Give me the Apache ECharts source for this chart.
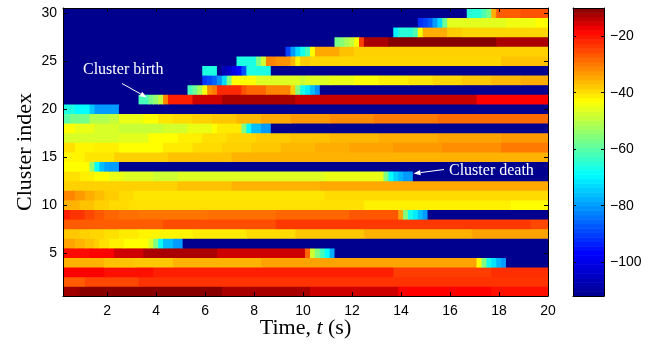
<!DOCTYPE html>
<html><head><meta charset="utf-8">
<script src="https://cdn.jsdelivr.net/npm/echarts@6/dist/echarts.min.js"></script>
<style>html,body{margin:0;padding:0;background:#fff}#c{width:671px;height:349px}</style>
</head><body><div id="c"></div>
<script>
// ---- tick labels ----
const timeTicks = [2, 4, 6, 8, 10, 12, 14, 16, 18, 20];
const clusterTicks = [5, 10, 15, 20, 25, 30];
const colorTicks = [-100, -80, -60, -40, -20];

// ---- each cluster row: [segment start time (s), value]; segment runs to the next start ----
const r1  = [[0.1,-12],[0.9,-10.5],[6.7,-12.5],[10.3,-15],[13.9,-18],[17.7,-19.5]];
const r2  = [[0.1,-27],[1.1,-25],[3.3,-23]];
const r3  = [[0.1,-18],[1.9,-19.5],[3.9,-21],[13.7,-24],[17.7,-22.5]];
const r4  = [[0.1,-35.5],[1.9,-37],[3.1,-37.5],[4.7,-35.5],[8.3,-34],[17.1,-43],[17.3,-56],[17.5,-67],[17.7,-72],[17.9,-77],[18.1,-80],[18.3,-112]];
const r5  = [[0.1,-19],[1.3,-18],[2.3,-15],[3.5,-12.6],[6.5,-15],[10.1,-28],[10.3,-48],[10.5,-56],[10.7,-62],[10.9,-69],[11.1,-78],[11.3,-112]];
const r6  = [[0.1,-34],[0.7,-35.5],[1.1,-37],[1.5,-38.5],[1.7,-40],[2.1,-41.5],[2.7,-43],[3.7,-47],[3.9,-56],[4.1,-68],[4.3,-76],[4.7,-80],[5.1,-112]];
const r7  = [[0.1,-37.5],[0.9,-38.5],[1.3,-39],[1.9,-40],[2.5,-41],[3.3,-42],[5.5,-41],[7.7,-39.5],[9.7,-37.5],[12.5,-35.5],[16.9,-34]];
const r8  = [[0.1,-27],[4.3,-25.5],[8.9,-23.5],[19.3,-25]];
const r9  = [[0.1,-21],[0.5,-23],[1.1,-25],[1.5,-26.5],[1.9,-28],[2.5,-29],[3.3,-29.5],[6.1,-29],[8.9,-28],[11.9,-26.5],[13.9,-34],[14.1,-56],[14.3,-67],[14.5,-71],[14.7,-76],[14.9,-80],[15.1,-112]];
const r10 = [[0.1,-35.5],[0.9,-37],[1.5,-38.5],[2.1,-39.5],[2.9,-40],[12.5,-41.5],[18.5,-43]];
const r11 = [[0.1,-31],[0.7,-33],[1.1,-35],[1.5,-36.5],[1.9,-38],[2.5,-39.5],[3.1,-40.5],[10.9,-39.5]];
const r12 = [[0.1,-38.5],[4.9,-37],[7.1,-35.5],[10.7,-34.5]];
const r13 = [[0.1,-40],[0.9,-41.5],[1.5,-43],[2.1,-45],[2.7,-46.5],[3.9,-48],[4.9,-46.5],[10.9,-45],[13.3,-56],[13.5,-69],[13.7,-74],[13.9,-77],[14.1,-80],[14.5,-112]];
const r14 = [[0.1,-43],[1.3,-54],[1.5,-68],[1.7,-76],[1.9,-79],[2.1,-80],[2.5,-112]];
const r15 = [[0.1,-42],[1.1,-40.5],[2.3,-38.5],[4.5,-37],[7.1,-35.5]];
const r16 = [[0.1,-40],[0.7,-42],[1.5,-41.5],[2.5,-43],[4.3,-41],[5.5,-39.5],[6.7,-38.5],[7.9,-37.5],[9.1,-36],[10.5,-35],[11.9,-34],[13.7,-33],[15.7,-32],[18.1,-30]];
const r17 = [[0.1,-47],[2.5,-46],[3.7,-43],[4.9,-41.5],[5.9,-40],[6.9,-39],[8.1,-38],[9.5,-37],[11.1,-36],[13.1,-35],[15.5,-34],[18.1,-33]];
const r18 = [[0.1,-43],[0.7,-45],[1.5,-47],[2.5,-48.5],[4.3,-47.5],[5.3,-45],[6.3,-43],[6.5,-41],[7.5,-56],[7.7,-69],[7.9,-76],[8.3,-80],[8.7,-112]];
const r19 = [[0.1,-60],[0.5,-57],[1.3,-51],[2.1,-49],[2.5,-45],[3.5,-43],[4.1,-40.5],[4.7,-39.5],[5.5,-38.5],[6.3,-37.5],[7.3,-36],[8.3,-34.5],[9.5,-33],[11.1,-31.5],[12.9,-30],[15.5,-28.5]];
const r20 = [[0.1,-66],[0.7,-69],[1.3,-75],[1.5,-80],[2.5,-112]];
const r21 = [[0.1,-112],[3.3,-62],[3.7,-57],[3.9,-54],[4.1,-49],[4.3,-31],[4.5,-21],[5.5,-15],[6.7,-12.5],[9.7,-14.5],[17.1,-18]];
const r22 = [[0.1,-112],[5.3,-62],[5.5,-58],[5.7,-52],[5.9,-44],[6.1,-32],[6.3,-30],[6.5,-22],[7.5,-26],[7.7,-28],[8.5,-31],[9.5,-38],[9.7,-56],[9.9,-67],[10.1,-71],[10.3,-76],[10.5,-81],[10.7,-112]];
const r23 = [[0.1,-112],[5.9,-91],[6.1,-89],[6.3,-86],[6.5,-81],[6.7,-73],[6.9,-56],[7.1,-43],[8.1,-46.5],[9.9,-48],[10.1,-46.5],[11.1,-45],[12.1,-43],[13.1,-41.5],[14.3,-40.5],[15.3,-39],[16.5,-37.5],[17.7,-36],[18.9,-35]];
const r24 = [[0.1,-112],[5.9,-66],[6.5,-112],[6.7,-107],[6.9,-104],[7.1,-100],[7.3,-96],[7.5,-88],[7.7,-66],[8.7,-112]];
const r25 = [[0.1,-112],[7.3,-66],[8.1,-56],[8.3,-48],[8.5,-31],[8.9,-32.5],[9.5,-36],[9.7,-42],[9.9,-38],[10.3,-39],[18.1,-37]];
const r26 = [[0.1,-112],[9.3,-90],[9.5,-80],[9.7,-73],[9.9,-67],[10.1,-62],[10.3,-43],[10.5,-34.5],[11.5,-37],[12.1,-38.5]];
const r27 = [[0.1,-112],[11.3,-57],[11.5,-55],[11.7,-52],[11.9,-49],[12.1,-43],[12.3,-24],[12.5,-12.6],[13.5,-10.3],[17.9,-12.6]];
const r28 = [[0.1,-112],[13.7,-70],[13.9,-65],[14.5,-61],[14.7,-43],[14.9,-35],[15.9,-38],[16.5,-39]];
const r29 = [[0.1,-112],[14.7,-92],[14.9,-90],[15.1,-87],[15.3,-80],[15.5,-73],[15.7,-58],[15.9,-46],[18.3,-44.5],[19.5,-43]];
const r30 = [[0.1,-112],[16.7,-65],[17.3,-61],[17.5,-57],[17.7,-35],[17.9,-27],[18.9,-26]];

const rows = [r1,r2,r3,r4,r5,r6,r7,r8,r9,r10,r11,r12,r13,r14,r15,r16,r17,r18,r19,r20,r21,r22,r23,r24,r25,r26,r27,r28,r29,r30];
const T_END = 20.1;
const C_MIN = -112, C_MAX = -10;

// ---- build cells: [tStart, tEnd, cluster, value] ----
const cells = [];
rows.forEach((segs, i) => {
  segs.forEach((s, j) => {
    const end = j + 1 < segs.length ? segs[j + 1][0] : T_END;
    cells.push([s[0], end, i + 1, s[1]]);
  });
});

// ---- jet-like colormap ----
const stops = [[-112,[0,0,143]],[-97,[0,0,255]],[-69,[0,255,255]],[-43,[255,255,0]],[-18,[255,0,0]],[-10,[128,0,0]]];
function cmap(v) {
  for (let k = 0; k < stops.length - 1; k++) {
    const [a, ca] = stops[k], [b, cb] = stops[k + 1];
    if (v <= b) {
      const f = Math.max(0, (v - a) / (b - a));
      const c = ca.map((x, m) => Math.round(x + (cb[m] - x) * f));
      return 'rgb(' + c.join(',') + ')';
    }
  }
  return 'rgb(128,0,0)';
}
const cmapColors = [];
for (let v = C_MIN; v <= C_MAX; v += 1) cmapColors.push(cmap(v));

// colour-bar bands (64 levels like the original colormap)
const bands = [];
const nBands = 64;
for (let i = 0; i < nBands; i++) {
  const lo = C_MIN + (C_MAX - C_MIN) * i / nBands;
  const hi = C_MIN + (C_MAX - C_MIN) * (i + 1) / nBands;
  bands.push([lo, hi, 0, (lo + hi) / 2]);
}

function clip(r, cs) {
  return echarts.graphic.clipRectByRect(r, {x: cs.x, y: cs.y, width: cs.width, height: cs.height});
}
function renderCell(params, api) {
  const a = api.coord([api.value(0), api.value(2) + 0.5]);
  const b = api.coord([api.value(1), api.value(2) - 0.5]);
  const shape = clip({x: a[0] - 0.4, y: a[1] - 0.4, width: b[0] - a[0] + 0.8, height: b[1] - a[1] + 0.8}, params.coordSys);
  if (!shape) return;
  return {type: 'rect', shape: shape, style: {fill: api.visual('color')}};
}
function renderBand(params, api) {
  const a = api.coord([0, api.value(1)]);
  const b = api.coord([1, api.value(0)]);
  const shape = clip({x: a[0], y: a[1] - 0.3, width: b[0] - a[0], height: b[1] - a[1] + 0.6}, params.coordSys);
  if (!shape) return;
  return {type: 'rect', shape: shape, style: {fill: api.visual('color')}};
}

function arrow(x0, y0, x1, y1) {
  const dx = x1 - x0, dy = y1 - y0, L = Math.hypot(dx, dy), ux = dx / L, uy = dy / L;
  const hl = 7, hw = 2.6, bx = x1 - ux * hl, by = y1 - uy * hl;
  return [
    {type: 'line', z: 100, shape: {x1: x0, y1: y0, x2: bx, y2: by}, style: {stroke: '#fff', lineWidth: 1}},
    {type: 'polygon', z: 100, shape: {points: [[x1, y1], [bx - uy * hw, by + ux * hw], [bx + uy * hw, by - ux * hw]]}, style: {fill: '#fff'}}
  ];
}

const tickFont = {fontSize: 14, fontFamily: 'Liberation Sans, Arial, sans-serif', color: '#000'};
const blackLine = {color: '#000', width: 1};
const minus = v => String(v).replace('-', '\u2212');

const chart = echarts.init(document.getElementById('c'), null, {renderer: 'canvas'});
chart.setOption({
  animation: false,
  backgroundColor: '#fff',
  grid: [
    {left: 63, top: 8, width: 485, height: 288},
    {left: 573, top: 8, width: 31, height: 288}
  ],
  xAxis: [
    {gridIndex: 0, type: 'value', min: 0.2, max: 20, splitNumber: 10, position: 'bottom', z: 10,
     axisLine: {onZero: false, lineStyle: blackLine}, splitLine: {show: false},
     axisTick: {inside: true, length: 4, customValues: timeTicks, lineStyle: blackLine},
     axisLabel: Object.assign({customValues: timeTicks, margin: 8, formatter: v => timeTicks.includes(v) ? String(v) : ''}, tickFont)},
    {gridIndex: 0, type: 'value', min: 0.2, max: 20, splitNumber: 10, position: 'top', z: 10,
     axisLine: {onZero: false, lineStyle: blackLine}, splitLine: {show: false},
     axisTick: {inside: true, length: 4, customValues: timeTicks, lineStyle: blackLine},
     axisLabel: {show: false}},
    {gridIndex: 1, type: 'value', min: 0, max: 1, position: 'bottom', z: 10,
     axisLine: {onZero: false, lineStyle: blackLine}, splitLine: {show: false},
     axisTick: {show: false}, axisLabel: {show: false}},
    {gridIndex: 1, type: 'value', min: 0, max: 1, position: 'top', z: 10,
     axisLine: {onZero: false, lineStyle: blackLine}, splitLine: {show: false},
     axisTick: {show: false}, axisLabel: {show: false}}
  ],
  yAxis: [
    {gridIndex: 0, type: 'value', min: 0.5, max: 30.5, splitNumber: 6, position: 'left', z: 10,
     axisLine: {onZero: false, lineStyle: blackLine}, splitLine: {show: false},
     axisTick: {inside: true, length: 4, customValues: clusterTicks, lineStyle: blackLine},
     axisLabel: Object.assign({customValues: clusterTicks, margin: 6, formatter: v => clusterTicks.includes(v) ? String(v) : ''}, tickFont)},
    {gridIndex: 0, type: 'value', min: 0.5, max: 30.5, splitNumber: 6, position: 'right', z: 10,
     axisLine: {onZero: false, lineStyle: blackLine}, splitLine: {show: false},
     axisTick: {inside: true, length: 4, customValues: clusterTicks, lineStyle: blackLine},
     axisLabel: {show: false}},
    {gridIndex: 1, type: 'value', min: C_MIN, max: C_MAX, splitNumber: 5, position: 'right', z: 10,
     axisLine: {onZero: false, lineStyle: blackLine}, splitLine: {show: false},
     axisTick: {inside: true, length: 3, customValues: colorTicks, lineStyle: blackLine},
     axisLabel: Object.assign({customValues: colorTicks, margin: 6, formatter: v => colorTicks.includes(v) ? minus(v) : ''}, tickFont)},
    {gridIndex: 1, type: 'value', min: C_MIN, max: C_MAX, splitNumber: 5, position: 'left', z: 10,
     axisLine: {onZero: false, lineStyle: blackLine}, splitLine: {show: false},
     axisTick: {inside: true, length: 3, customValues: colorTicks, lineStyle: blackLine},
     axisLabel: {show: false}}
  ],
  visualMap: {type: 'continuous', show: false, min: C_MIN, max: C_MAX, dimension: 3, seriesIndex: [0, 1],
              inRange: {color: cmapColors}},
  series: [
    {type: 'custom', name: 'clusters', xAxisIndex: 0, yAxisIndex: 0, renderItem: renderCell, data: cells, silent: true},
    {type: 'custom', name: 'colorbar', xAxisIndex: 2, yAxisIndex: 2, renderItem: renderBand, data: bands, silent: true}
  ],
  graphic: [
    {type: 'text', z: 100, x: 83, y: 70, style: {text: 'Cluster birth', fill: '#fff', fontSize: 16, fontFamily: 'Liberation Serif, serif', align: 'left', verticalAlign: 'middle'}},
    {type: 'text', z: 100, x: 449, y: 171, style: {text: 'Cluster death', fill: '#fff', fontSize: 16, fontFamily: 'Liberation Serif, serif', align: 'left', verticalAlign: 'middle'}},
    ...arrow(122, 83.5, 147, 97.5),
    ...arrow(444, 169.5, 413.5, 173.5),
    {type: 'text', z: 100, x: 305.5, y: 328, style: {text: '{a|Time, }{b|t}{a| (s)}', align: 'center', verticalAlign: 'middle',
      rich: {a: {fontSize: 22, fontFamily: 'Liberation Serif, serif', fill: '#000'}, b: {fontSize: 22, fontStyle: 'italic', fontFamily: 'Liberation Serif, serif', fill: '#000'}}}},
    {type: 'text', z: 100, x: 25, y: 152, rotation: Math.PI / 2, style: {text: 'Cluster index', fill: '#000', fontSize: 22, fontFamily: 'Liberation Serif, serif', align: 'center', verticalAlign: 'middle'}}
  ]
});
</script>
</body></html>
